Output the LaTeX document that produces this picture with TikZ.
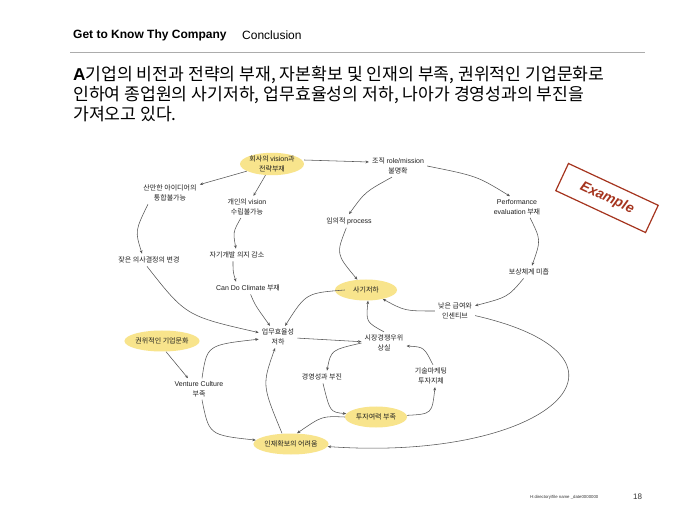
\documentclass[tikz,border=0pt]{standalone}
\usepackage{fontspec}
\setmainfont{Liberation Sans}
\newfontfamily\kr{Noto Sans CJK KR}
\usetikzlibrary{shapes.geometric,arrows.meta}
\definecolor{hlyellow}{RGB}{248,228,140}
\definecolor{arrgray}{RGB}{85,85,85}
\definecolor{stampred}{RGB}{165,52,30}
\newcommand\E[1]{{\rmfamily #1}}
\begin{document}
\begin{tikzpicture}[x=1pt,y=-1pt,
  lbl/.style={font=\kr\fontsize{7}{9.5}\selectfont, align=center, inner sep=3pt, text=black!88},
  hl/.style={lbl, ellipse, fill=hlyellow, minimum width=62pt, minimum height=21pt, inner sep=0pt},
  arr/.style={draw=arrgray, line width=0.55pt, -{Stealth[length=3.4pt,width=2.8pt]}},
  ttl/.style={anchor=west, inner sep=0pt, font=\kr\fontsize{17.2}{19}\selectfont},
]
\useasboundingbox (0,0) rectangle (680,510);
\fill[white] (0,0) rectangle (680,510);

% header
\node[anchor=west, inner sep=0pt, font=\bfseries\fontsize{12}{14}\selectfont] (hdr) at (73,35) {Get to Know Thy Company};
\node[anchor=west, inner sep=0pt, font=\fontsize{12}{14}\selectfont] (concl) at (242,35) {Conclusion};
\draw[gray!65, line width=0.9pt] (70,52) -- (645,52);

% title
\node[ttl] (t1) at (73,75) {{\rmfamily\bfseries A}기업의 비전과 전략의 부재, 자본확보 및 인재의 부족, 권위적인 기업문화로};
\node[ttl] (t2) at (73,95) {인하여 종업원의 사기저하, 업무효율성의 저하, 나아가 경영성과의 부진을};
\node[ttl] (t3) at (73,114) {가져오고 있다.};

% nodes
\node[hl] (hoesa) at (272,164) {회사의 \E{vision}과\\전략부재};
\node[lbl] (jojik) at (398,166) {조직 \E{role/mission}\\불명확};
\node[lbl] (perf) at (517,207) {\E{Performance}\\\E{evaluation} 부재};
\node[lbl] (bosang) at (529,272) {보상체계 미흡};
\node[lbl] (imui) at (349,221) {임의적 \E{process}};
\node[lbl] (sanman) at (170,193) {산만한 아이디어의\\통합불가능};
\node[lbl] (gaein) at (247,207) {개인의 \E{vision}\\수립불가능};
\node[lbl] (jagi) at (237,255) {자기개발 의지 감소};
\node[lbl] (jajeun) at (149,260) {잦은 의사결정의 변경};
\node[lbl] (cando) at (248,288) {\E{Can Do Climate} 부재};
\node[hl] (sagi) at (366,290) {사기저하};
\node[lbl] (nateun) at (455,311) {낮은 급여와\\인센티브};
\node[lbl] (upmu) at (278,337) {업무효율성\\저하};
\node[hl] (gwonwi) at (162,341) {권위적인 기업문화};
\node[lbl] (sijang) at (384,343) {시장경쟁우위\\상실};
\node[lbl] (gyeong) at (322,377) {경영성과 부진};
\node[lbl] (gisul) at (431,376) {기술마케팅\\투자지체};
\node[lbl] (venture) at (199,389) {\E{Venture Culture}\\부족};
\node[hl] (tuja) at (376,417) {투자여력 부족};
\node[hl] (injae) at (291,444) {인재확보의 어려움};

% connectors
\draw[arr] ([yshift=4pt]hoesa.east) -- ([yshift=4pt]jojik.west);
\draw[arr] (hoesa) -- (sanman);
\draw[arr] (hoesa) -- (gaein);
\draw[arr] ([xshift=-6pt]jojik.south) .. controls (365,192) .. (imui.north);
\draw[arr] (jojik.east) .. controls (477,176) .. ([xshift=-7pt]perf.north);
\draw[arr] ([xshift=13pt]perf.south) .. controls (541,240) .. ([xshift=3pt]bosang.north);
\draw[arr] (bosang) .. controls (508,297) .. (nateun);
\draw[arr] (imui) .. controls (336,254) .. (sagi);
\draw[arr] (gaein) .. controls (233,232) .. (jagi);
\draw[arr] ([xshift=-4pt]jagi.south) .. controls (233,272) .. ([xshift=-12pt]cando.north);
\draw[arr] ([xshift=-22pt]sanman.south) .. controls (135,231) .. ([xshift=-7pt]jajeun.north);
\draw[arr] ([xshift=-2pt]jajeun.south) .. controls (186,316) .. (upmu);
\draw[arr] (cando) .. controls (255,305) .. (upmu);
\draw[arr] ([xshift=10pt]sagi.west) .. controls (306,293) .. (upmu);
\draw[arr] (upmu) -- (sijang);
\draw[arr] (sijang.north) .. controls (366,322) .. ([xshift=2pt]sagi.south);
\draw[arr] (nateun.west) .. controls (405,311) .. (sagi);
\draw[arr] (sijang.west) .. controls (331,350) .. ([xshift=5pt]gyeong.north);
\draw[arr] ([xshift=1pt]gyeong.south) .. controls (330,412) .. (tuja);
\draw[arr] (tuja) .. controls (432,414) .. ([xshift=4pt]gisul.south);
\draw[arr] ([xshift=2pt]gisul.north) .. controls (424,347) .. ([yshift=-3pt]sijang.east);
\draw[arr] (tuja.west) .. controls (322,416) .. ([xshift=6pt]injae.north);
\draw[arr] ([xshift=4pt]gwonwi.south) .. controls (176,364) .. ([xshift=-11pt]venture.north);
\draw[arr] ([xshift=3pt]venture.north) .. controls (207,345) .. (upmu);
\draw[arr] ([xshift=3pt]venture.south) .. controls (209,435) .. (injae);
\draw[arr] ([xshift=-9pt]injae.north) .. controls (262,385) .. ([xshift=-3pt]upmu.south);
\draw[arr] (nateun) .. controls (660,358) and (550,462) .. (injae);

% stamp
\node[draw=stampred, line width=1.2pt, rotate=-25, minimum width=99pt, minimum height=30pt,
  text=stampred, font=\bfseries\itshape\fontsize{14}{14}\selectfont] (ex) at (607,198) {Example};

% footer
\node[anchor=west, inner sep=0pt, font=\fontsize{4.3}{5}\selectfont, text=black!80] (foot) at (530,497) {H:directory\textbackslash file name \_date0000000};
\node[anchor=west, inner sep=0pt, font=\fontsize{8}{9}\selectfont, text=black!80] (pg) at (633,497) {18};
\end{tikzpicture}
\end{document}
